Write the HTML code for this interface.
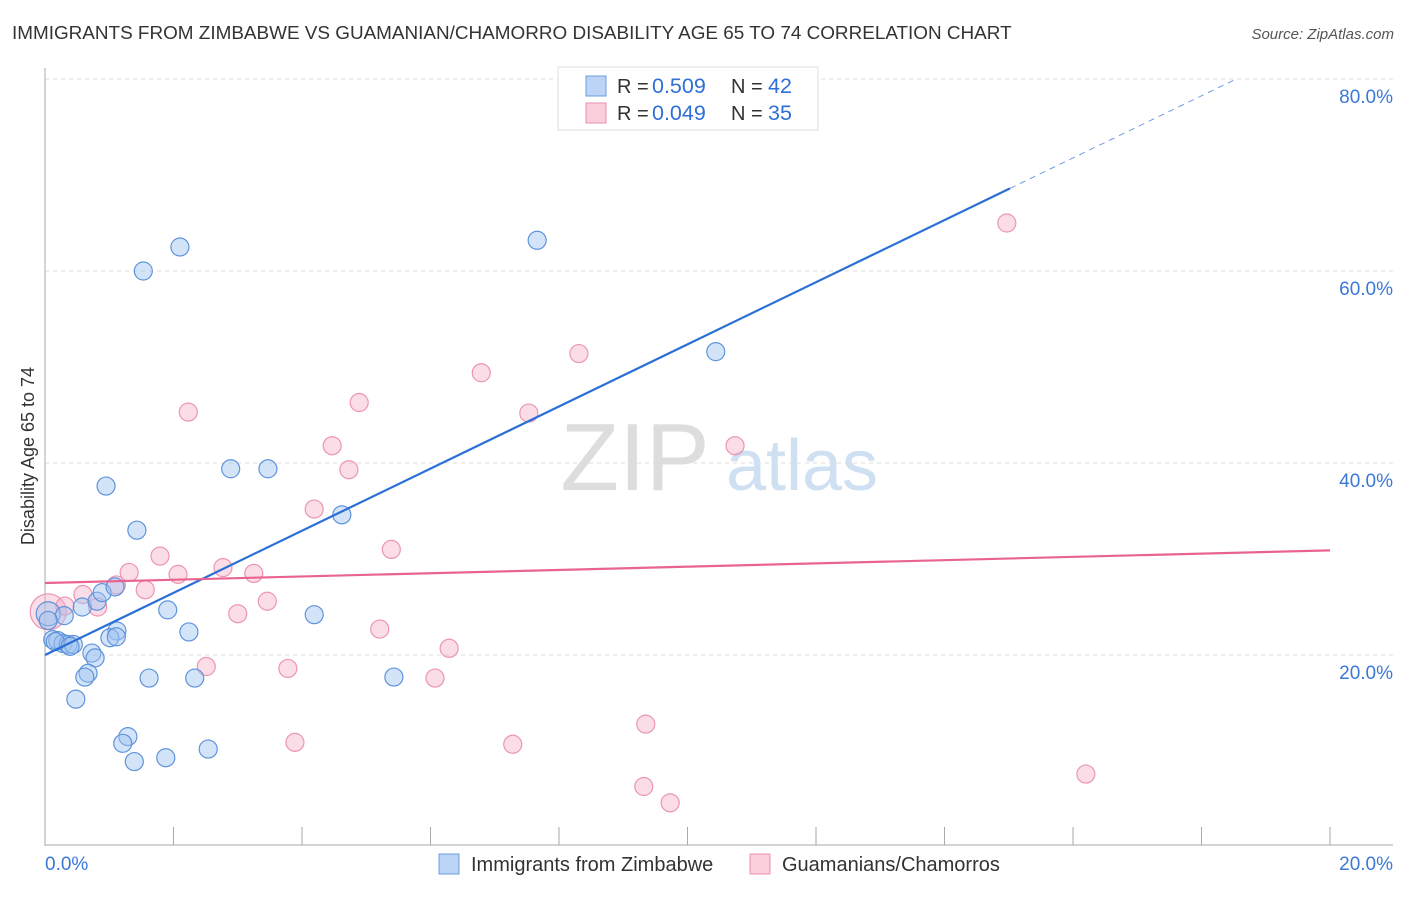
<!DOCTYPE html>
<html><head><meta charset="utf-8"><style>
body{margin:0;background:#fff;font-family:"Liberation Sans",sans-serif;}
svg text{font-family:"Liberation Sans",sans-serif;}
</style></head><body>
<svg id="chart" width="1406" height="892">
<text x="12" y="39" font-size="18.9" fill="#333">IMMIGRANTS FROM ZIMBABWE VS GUAMANIAN/CHAMORRO DISABILITY AGE 65 TO 74 CORRELATION CHART</text>
<text x="1394" y="39" font-size="15" fill="#555" font-style="italic" text-anchor="end">Source: ZipAtlas.com</text>
<g><text x="635" y="490" font-size="96" fill="#ddd" font-family="Liberation Serif" text-anchor="middle">ZIP</text><text x="802" y="490" font-size="72" fill="#cfe0f3" text-anchor="middle">atlas</text></g>
<g id="grid"></g><g id="axes"></g><g id="marks"></g>
<text transform="translate(34,456) rotate(-90)" font-size="18" fill="#333" text-anchor="middle">Disability Age 65 to 74</text>
<g>
<rect x="558" y="67" width="260" height="63" fill="#fff" stroke="#ddd"/>
<rect x="586" y="76" width="20" height="20" fill="#bcd4f5" stroke="#6d9de0"/>
<rect x="586" y="103" width="20" height="20" fill="#f9cfdc" stroke="#ea8fae"/>
<text x="617" y="93" font-size="20" fill="#333">R =</text><text x="652" y="93" font-size="21.5" fill="#2f6fd6">0.509</text>
<text x="731" y="93" font-size="20" fill="#333">N =</text><text x="768" y="93" font-size="21.5" fill="#2f6fd6">42</text>
<text x="617" y="120" font-size="20" fill="#333">R =</text><text x="652" y="120" font-size="21.5" fill="#2f6fd6">0.049</text>
<text x="731" y="120" font-size="20" fill="#333">N =</text><text x="768" y="120" font-size="21.5" fill="#2f6fd6">35</text>
</g>
<g>
<rect x="439" y="854" width="20" height="20" fill="#bcd4f5" stroke="#6d9de0"/>
<text x="471" y="871" font-size="20" fill="#333">Immigrants from Zimbabwe</text>
<rect x="750" y="854" width="20" height="20" fill="#f9cfdc" stroke="#ea8fae"/>
<text x="782" y="871" font-size="20" fill="#333">Guamanians/Chamorros</text>
</g>
</svg>
<script>
const yTicks=[20,40,60,80];
const yTickLabels=["20.0%","40.0%","60.0%","80.0%"];
const xTickLabels=["0.0%","20.0%"];
const blueX=[0.05,0.12,0.20,0.28,0.36,0.44,0.16,0.30,0.58,0.81,0.89,1.09,1.12,1.01,1.11,0.73,0.78,0.67,0.62,0.48,1.62,1.29,1.21,1.39,1.88,2.54,2.33,1.91,2.24,1.43,0.95,1.53,2.10,2.89,3.47,4.62,4.19,5.43,7.66,10.44,0.05,0.39];
const blueY=[24.3,21.6,21.5,21.2,21.1,21.1,21.4,24.1,25.0,25.6,26.5,27.1,22.5,21.8,21.9,20.2,19.7,18.1,17.7,15.4,17.6,11.5,10.8,8.9,9.3,10.2,17.6,24.7,22.4,33.0,37.6,60.0,62.5,39.4,39.4,34.6,24.2,17.7,63.2,51.6,23.6,20.9];
const pinkX=[0.05,0.31,0.59,0.82,1.11,1.31,1.56,1.79,2.07,2.23,2.51,2.77,3.00,3.25,3.46,3.78,3.89,4.19,4.47,4.73,4.89,5.39,5.21,6.07,6.29,6.79,7.28,7.53,8.31,9.32,9.35,9.73,10.74,14.97,16.20];
const pinkY=[24.5,25.1,26.3,25.0,27.3,28.6,26.8,30.3,28.4,45.3,18.8,29.1,24.3,28.5,25.6,18.6,10.9,35.2,41.8,39.3,46.3,31.0,22.7,17.6,20.7,49.4,10.7,45.2,51.4,6.3,12.8,4.6,41.8,65.0,7.6];
const blueTrend=[20.0,3.236];
const pinkTrend=[27.5,0.17];
const X=v=>45+v/20*1285, Y=v=>847-v/20*192;
const NS="http://www.w3.org/2000/svg";
function mk(p,t,a){const e=document.createElementNS(NS,t);for(const k in a)e.setAttribute(k,a[k]);p.appendChild(e);return e;}
const grid=document.getElementById('grid'),axes=document.getElementById('axes'),marks=document.getElementById('marks');
yTicks.forEach((t,i)=>{
 const l=mk(grid,'line',{x1:45,x2:1393,y1:Y(t),y2:Y(t),stroke:'#ddd','stroke-dasharray':'4,4'});
 
 
 const tx=mk(axes,'text',{x:1393,y:Y(t)+24,'font-size':19,fill:'#3b78d8','text-anchor':'end'});tx.textContent=yTickLabels[i];
 
 
});
mk(axes,'line',{x1:45,x2:45,y1:68,y2:846,stroke:'#aaa'});
mk(axes,'line',{x1:45,x2:1393,y1:845,y2:845,stroke:'#aaa'});
for(let i=0;i<=10;i++){mk(axes,'line',{x1:X(i*2),x2:X(i*2),y1:827,y2:845,stroke:'#aaa'});}
const xl0=mk(axes,'text',{x:45,y:870,'font-size':19,fill:'#3b78d8'});xl0.textContent=xTickLabels[0];


const xl1=mk(axes,'text',{x:1393,y:870,'font-size':19,fill:'#3b78d8','text-anchor':'end'});xl1.textContent=xTickLabels[1];


pinkX.forEach((x,i)=>{const c=mk(marks,'circle',{cx:X(x),cy:Y(pinkY[i]),r:i==0?18:9,fill:'rgba(245,170,195,0.4)',stroke:'#ec95b2','stroke-width':1.2});
 
 });
blueX.forEach((x,i)=>{const c=mk(marks,'circle',{cx:X(x),cy:Y(blueY[i]),r:i==0?12:9,fill:'rgba(160,195,240,0.45)',stroke:'#5f93dc','stroke-width':1.2});
 
 });
const bEnd=15.02, bDash=18.5;
const b1=mk(marks,'line',{x1:X(0),y1:Y(blueTrend[0]),x2:X(bEnd),y2:Y(blueTrend[0]+blueTrend[1]*bEnd),stroke:'#2a6fd6','stroke-width':2.2});


const b2=mk(marks,'line',{x1:X(bEnd),y1:Y(blueTrend[0]+blueTrend[1]*bEnd),x2:X(bDash),y2:Y(blueTrend[0]+blueTrend[1]*bDash),stroke:'#6d9de0','stroke-width':1,'stroke-dasharray':'6,5'});


const p1=mk(marks,'line',{x1:X(0),y1:Y(pinkTrend[0]),x2:X(20),y2:Y(pinkTrend[0]+pinkTrend[1]*20),stroke:'#e8648f','stroke-width':2.2});


</script>
</body></html>
